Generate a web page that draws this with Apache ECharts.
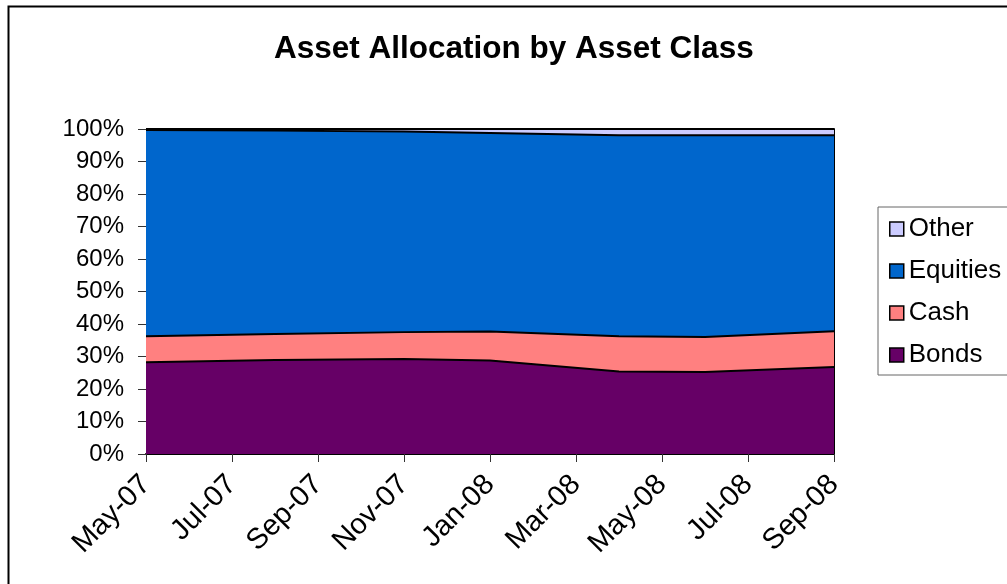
<!DOCTYPE html>
<html>
<head>
<meta charset="utf-8">
<script src="https://cdn.jsdelivr.net/npm/echarts@6/dist/echarts.min.js"></script>
<style>
  html, body { margin: 0; padding: 0; background: #fff; }
  #chart { width: 1007px; height: 584px; }
</style>
</head>
<body>
<div id="chart"></div>
<script>
// months since May-07 where values were read
const monthIdx = [0, 3, 6, 8, 11, 13, 16]
const xTickLabels = ['May-07', 'Jul-07', 'Sep-07', 'Nov-07', 'Jan-08', 'Mar-08', 'May-08', 'Jul-08', 'Sep-08']

// percent of total
const bonds = [28.2, 28.9, 29.2, 28.8, 25.4, 25.2, 26.8]
const cash = [8.0, 8.0, 8.3, 8.9, 10.8, 10.8, 11.0]
const equities = [63.5, 62.6, 61.7, 61.1, 61.9, 62.1, 60.3]
const other = [0.3, 0.5, 0.8, 1.2, 1.9, 1.9, 1.9]

const font = 'Arial, "Liberation Sans", sans-serif'

// running totals, bottom to top, so each band can be filled down to 0
const layers = [bonds, cash, equities, other]
const cumulative = []
layers.forEach((arr, j) => {
  cumulative.push(arr.map((v, i) => (j ? cumulative[j - 1][i] : 0) + v))
})

const chart = echarts.init(document.getElementById('chart'))

function makeSeries(name, values, color, z) {
  return {
    name: name,
    type: 'line',
    symbol: 'none',
    z: z,
    color: color,
    itemStyle: { color: color },
    lineStyle: { color: '#000', width: 2 },
    areaStyle: { color: color, opacity: 1, origin: 'start' },
    emphasis: { disabled: true },
    data: values.map((v, i) => [monthIdx[i], v])
  }
}

chart.setOption({
  animation: false,
  textStyle: { fontFamily: font, color: '#000' },
  title: {
    text: 'Asset Allocation by Asset Class',
    left: 274,
    top: 33,
    padding: 0,
    textStyle: { fontFamily: font, fontSize: 31.5, fontWeight: 'bold', color: '#000' }
  },
  graphic: [{
    type: 'rect',
    left: 6,
    top: 4,
    shape: { width: 1100, height: 700 },
    style: { fill: 'none', stroke: '#000', lineWidth: 2 },
    silent: true
  }],
  legend: {
    orient: 'vertical',
    left: 878,
    top: 207,
    padding: [8, 30, 6, 11],
    itemGap: 14,
    itemWidth: 14,
    itemHeight: 14,
    icon: 'rect',
    borderColor: '#666',
    borderWidth: 1,
    data: ['Other', 'Equities', 'Cash', 'Bonds'],
    itemStyle: { borderColor: '#000', borderWidth: 1.5 },
    textStyle: { fontFamily: font, fontSize: 26, lineHeight: 28, color: '#000' }
  },
  grid: {
    left: 146,
    top: 129,
    right: 173,
    bottom: 130
  },
  xAxis: {
    type: 'value',
    min: 0,
    max: 16,
    interval: 2,
    splitLine: { show: false },
    axisLine: { lineStyle: { color: '#000', width: 2 } },
    axisTick: { length: 8, lineStyle: { color: '#333' } },
    axisLabel: {
      rotate: 45,
      margin: 26,
      fontFamily: font,
      fontSize: 29,
      color: '#000',
      formatter: v => xTickLabels[v / 2]
    }
  },
  yAxis: [{
    type: 'value',
    min: 0,
    max: 100,
    interval: 10,
    splitLine: { show: false },
    axisLine: { show: true, lineStyle: { color: '#333', width: 1 } },
    axisTick: { show: true, length: 8, lineStyle: { color: '#333' } },
    axisLabel: {
      margin: 22,
      fontFamily: font,
      fontSize: 24,
      color: '#000',
      formatter: '{value}%'
    }
  }, {
    type: 'value',
    position: 'right',
    min: 0,
    max: 100,
    splitLine: { show: false },
    axisLine: { show: true, lineStyle: { color: '#000', width: 2 } },
    axisTick: { show: false },
    axisLabel: { show: false }
  }],
  series: [
    makeSeries('Other', cumulative[3], '#CCCCFF', 2),
    makeSeries('Equities', cumulative[2], '#0066CC', 3),
    makeSeries('Cash', cumulative[1], '#FF8080', 4),
    makeSeries('Bonds', cumulative[0], '#660066', 5)
  ]
})
</script>
</body>
</html>
